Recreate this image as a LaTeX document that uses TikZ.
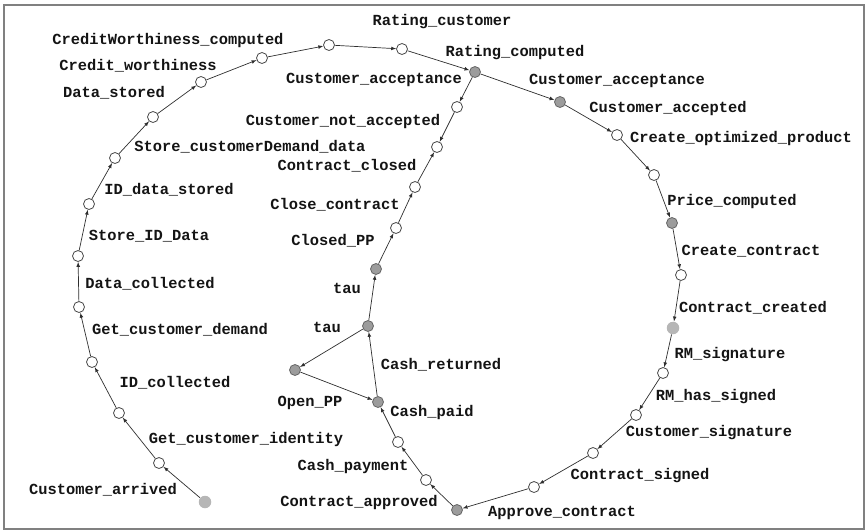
\documentclass[tikz,border=0pt]{standalone}
\usepackage{fontspec}
\newfontfamily\netfont{Liberation Mono}
\definecolor{rim}{HTML}{484848}
\definecolor{tok}{HTML}{9C9C9C}
\definecolor{tokrim}{HTML}{666666}
\definecolor{faint}{HTML}{B6B6B6}
\definecolor{arc}{HTML}{2E2E2E}

\begin{document}
\begin{tikzpicture}[x=1pt,y=-1pt]
		\useasboundingbox (0,0) rectangle (865,531);
		\draw[gray,line width=1.5pt] (4,5) rectangle (864,529);
		\tikzset{St/.style = {circle, draw=rim, fill=white, line width=0.8pt, minimum size=11pt, inner sep=0pt},
		Mk/.style = {St, fill=tok, draw=tokrim},
		Fa/.style = {St, fill=faint, draw=none, minimum size=12.5pt},
		Lb/.style = {font=\netfont\bfseries\fontsize{15.4}{18}\selectfont, inner sep=0pt, text=black!92}}
		% left branch
		\node[Fa] (0) at (205,502) {};
		\node[St] (1) at (159,463) {};
		\node[St] (2) at (119,413) {};
		\node[St] (3) at (92,362) {};
		\node[St] (4) at (79,307) {};
		\node[St] (5) at (78,256) {};
		\node[St] (6) at (89,204) {};
		\node[St] (7) at (115,158) {};
		\node[St] (8) at (153,117) {};
		\node[St] (9) at (201,82) {};
		\node[St] (10) at (262,58) {};
		\node[St] (11) at (329,45) {};
		\node[St] (12) at (402,49) {};
		\node[Mk] (13) at (475,72) {};
		% right branch
		\node[Mk] (14) at (560,102) {};
		\node[St] (15) at (617,135) {};
		\node[St] (16) at (654,175) {};
		\node[Mk] (17) at (672,223) {};
		\node[St] (18) at (681,275) {};
		\node[Fa] (19) at (673,328) {};
		\node[St] (20) at (663,373) {};
		\node[St] (21) at (636,415) {};
		\node[St] (22) at (593,453) {};
		\node[St] (23) at (534,487) {};
		\node[Mk] (24) at (457,510) {};
		\node[St] (25) at (426,480) {};
		\node[St] (26) at (398,442) {};
		\node[Mk] (27) at (378,402) {};
		% middle
		\node[Mk] (28) at (368,326) {};
		\node[Mk] (29) at (295,370) {};
		\node[Mk] (30) at (376,269) {};
		\node[St] (31) at (396,228) {};
		\node[St] (32) at (415,187) {};
		\node[St] (33) at (437,147) {};
		\node[St] (34) at (457,107) {};

		\node[Lb] (l0) at (103,490) {Customer\_arrived};
		\node[Lb] (l1) at (246,440) {Get\_customer\_identity};
		\node[Lb] (l2) at (175,383) {ID\_collected};
		\node[Lb] (l3) at (180,330) {Get\_customer\_demand};
		\node[Lb] (l4) at (150,284) {Data\_collected};
		\node[Lb] (l5) at (149,236) {Store\_ID\_Data};
		\node[Lb] (l6) at (169,190) {ID\_data\_stored};
		\node[Lb] (l7) at (250,147) {Store\_customerDemand\_data};
		\node[Lb] (l8) at (114,93) {Data\_stored};
		\node[Lb] (l9) at (138,66) {Credit\_worthiness};
		\node[Lb] (l10) at (168,41) {CreditWorthiness\_computed};
		\node[Lb] (l11) at (442,22) {Rating\_customer};
		\node[Lb] (l12) at (515,53) {Rating\_computed};
		\node[Lb] (l13) at (374,80) {Customer\_acceptance};
		\node[Lb] (l14) at (617,81) {Customer\_acceptance};
		\node[Lb] (l15) at (668,109) {Customer\_accepted};
		\node[Lb] (l16) at (741,139) {Create\_optimized\_product};
		\node[Lb] (l17) at (732,202) {Price\_computed};
		\node[Lb] (l18) at (751,251) {Create\_contract};
		\node[Lb] (l19) at (753,308) {Contract\_created};
		\node[Lb] (l20) at (730,355) {RM\_signature};
		\node[Lb] (l21) at (716,397) {RM\_has\_signed};
		\node[Lb] (l22) at (709,433) {Customer\_signature};
		\node[Lb] (l23) at (640,476) {Contract\_signed};
		\node[Lb] (l24) at (562,513) {Approve\_contract};
		\node[Lb] (l25) at (359,503) {Contract\_approved};
		\node[Lb] (l26) at (353,467) {Cash\_payment};
		\node[Lb] (l27) at (432,413) {Cash\_paid};
		\node[Lb] (l28) at (441,365) {Cash\_returned};
		\node[Lb] (l29) at (310,403) {Open\_PP};
		\node[Lb] (l30) at (327,327) {tau};
		\node[Lb] (l31) at (347,288) {tau};
		\node[Lb] (l32) at (333,241) {Closed\_PP};
		\node[Lb] (l33) at (335,205) {Close\_contract};
		\node[Lb] (l34) at (347,166) {Contract\_closed};
		\node[Lb] (l35) at (343,122) {Customer\_not\_accepted};

		\tikzset{every path/.append style = {draw=arc, line width=0.7pt}, >=latex}
		\draw[->] (0) -- (1);
		\draw[->] (1) -- (2);
		\draw[->] (2) -- (3);
		\draw[->] (3) -- (4);
		\draw[->] (4) -- (5);
		\draw[->] (5) -- (6);
		\draw[->] (6) -- (7);
		\draw[->] (7) -- (8);
		\draw[->] (8) -- (9);
		\draw[->] (9) -- (10);
		\draw[->] (10) -- (11);
		\draw[->] (11) -- (12);
		\draw[->] (12) -- (13);
		\draw[->] (13) -- (14);
		\draw[->] (14) -- (15);
		\draw[->] (15) -- (16);
		\draw[->] (16) -- (17);
		\draw[->] (17) -- (18);
		\draw[->] (18) -- (19);
		\draw[->] (19) -- (20);
		\draw[->] (20) -- (21);
		\draw[->] (21) -- (22);
		\draw[->] (22) -- (23);
		\draw[->] (23) -- (24);
		\draw[->] (24) -- (25);
		\draw[->] (25) -- (26);
		\draw[->] (26) -- (27);
		\draw[->] (27) -- (28);
		\draw[->] (28) -- (29);
		\draw[->] (29) -- (27);
		\draw[->] (28) -- (30);
		\draw[->] (30) -- (31);
		\draw[->] (31) -- (32);
		\draw[->] (32) -- (33);
		\draw[->] (13) -- (34);
		\draw[->] (34) -- (33);
	\end{tikzpicture}
\end{document}
